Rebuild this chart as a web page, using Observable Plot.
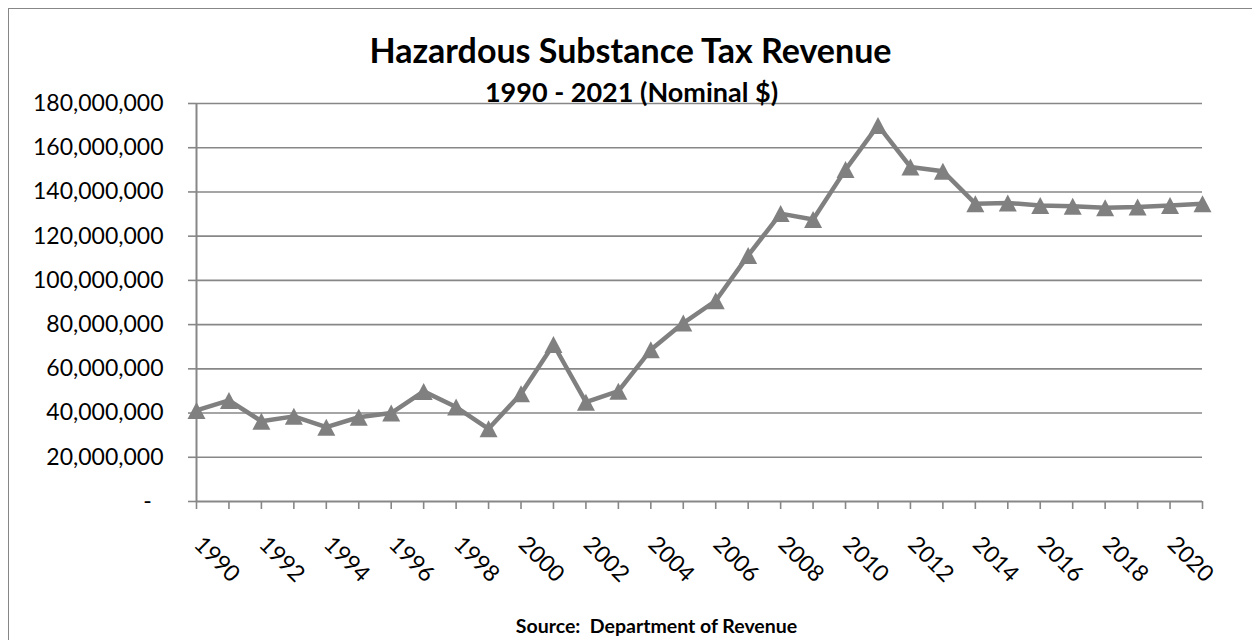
<!DOCTYPE html>
<html>
<head>
<meta charset="utf-8">
<script src="https://cdn.jsdelivr.net/npm/d3@7"></script>
<script src="https://cdn.jsdelivr.net/npm/@observablehq/plot@0.6"></script>
<style>
  html, body { margin: 0; padding: 0; background: #fff; }
  #wrap { position: relative; width: 1252px; height: 640px; overflow: hidden; }
  #border { position: absolute; left: 8px; top: 8px; width: 1300px; height: 700px; border: 1px solid #878787; box-sizing: border-box; pointer-events: none; }
  #chart { position: absolute; left: 0; top: 0; }
</style>
</head>
<body>
<div id="wrap"><div id="chart"></div><div id="border"></div></div>
<script>
const title = "Hazardous Substance Tax Revenue";
const subtitle = "1990 - 2021 (Nominal $)";
const caption = "Source:  Department of Revenue";

const years = [1990, 1991, 1992, 1993, 1994, 1995, 1996, 1997, 1998, 1999, 2000, 2001, 2002, 2003, 2004, 2005,
               2006, 2007, 2008, 2009, 2010, 2011, 2012, 2013, 2014, 2015, 2016, 2017, 2018, 2019, 2020, 2021];
const revenue = [41200000, 45700000, 36300000, 38500000, 33600000, 38100000, 40000000, 49800000, 42700000, 32900000,
                 48700000, 71000000, 44900000, 49900000, 68600000, 80700000, 90800000, 111300000, 130200000, 127500000,
                 150100000, 170100000, 151300000, 149400000, 134700000, 135000000, 133900000, 133500000, 132900000,
                 133200000, 133900000, 134700000];
const yTicks = [0, 20000000, 40000000, 60000000, 80000000, 100000000, 120000000, 140000000, 160000000, 180000000];
const xLabelYears = [1990, 1992, 1994, 1996, 1998, 2000, 2002, 2004, 2006, 2008, 2010, 2012, 2014, 2016, 2018, 2020];

const data = years.map((year, i) => ({year, value: revenue[i]}));
const gray = "#878787";
const lineGray = "#808080";

const triangle = {
  draw(context) {
    context.moveTo(0, -8.5);
    context.lineTo(9, 8.5);
    context.lineTo(-9, 8.5);
    context.closePath();
  }
};

const fmt = d => d === 0 ? "-\u00a0\u00a0" : d3.format(",")(d);

const chart = Plot.plot({
  width: 1252,
  height: 640,
  marginLeft: 196,
  marginRight: 50,
  marginTop: 103,
  marginBottom: 139,
  style: {fontFamily: "Lato, sans-serif", background: "transparent", color: "#000"},
  x: {domain: [1990, 2021], axis: null},
  y: {domain: [0, 180000000], axis: null},
  marks: [
    Plot.gridY(yTicks.filter(d => d > 0), {stroke: gray, strokeOpacity: 1, strokeWidth: 1.6}),
    Plot.axisY({ticks: yTicks, label: null, tickSize: 8, tickPadding: 25, tickFormat: fmt, fontSize: 23, stroke: gray, strokeWidth: 1.6}),
    Plot.axisX({ticks: years, label: null, tickSize: 8, tickFormat: () => "", stroke: gray, strokeWidth: 1.6}),
    Plot.ruleY([0], {stroke: gray, strokeWidth: 2}),
    Plot.ruleX([1990], {stroke: gray, strokeWidth: 2}),
    Plot.text(xLabelYears, {x: d => d, frameAnchor: "bottom", lineAnchor: "middle", text: d => String(d), rotate: 45, textAnchor: "start", dx: 1.5, dy: 39, fontSize: 23, fill: "#000"}),
    Plot.line(data, {x: "year", y: "value", stroke: lineGray, strokeWidth: 4.5, strokeLinejoin: "miter"}),
    Plot.dot(data, {x: "year", y: "value", symbol: triangle, fill: lineGray, stroke: "none", r: 8}),
    Plot.text([title], {frameAnchor: "top", lineAnchor: "middle", dx: -69, dy: -50.9, fontSize: 34, fontWeight: "bold", fill: "#000"}),
    Plot.text([subtitle], {frameAnchor: "top", lineAnchor: "middle", dx: -68, dy: -10.6, fontSize: 27, fontWeight: "bold", fill: "#000"}),
    Plot.text([caption], {frameAnchor: "bottom", lineAnchor: "middle", dx: -43, dy: 124.8, fontSize: 19.5, fontWeight: "bold", fill: "#000"})
  ]
});
document.getElementById("chart").appendChild(chart);
</script>
</body>
</html>
